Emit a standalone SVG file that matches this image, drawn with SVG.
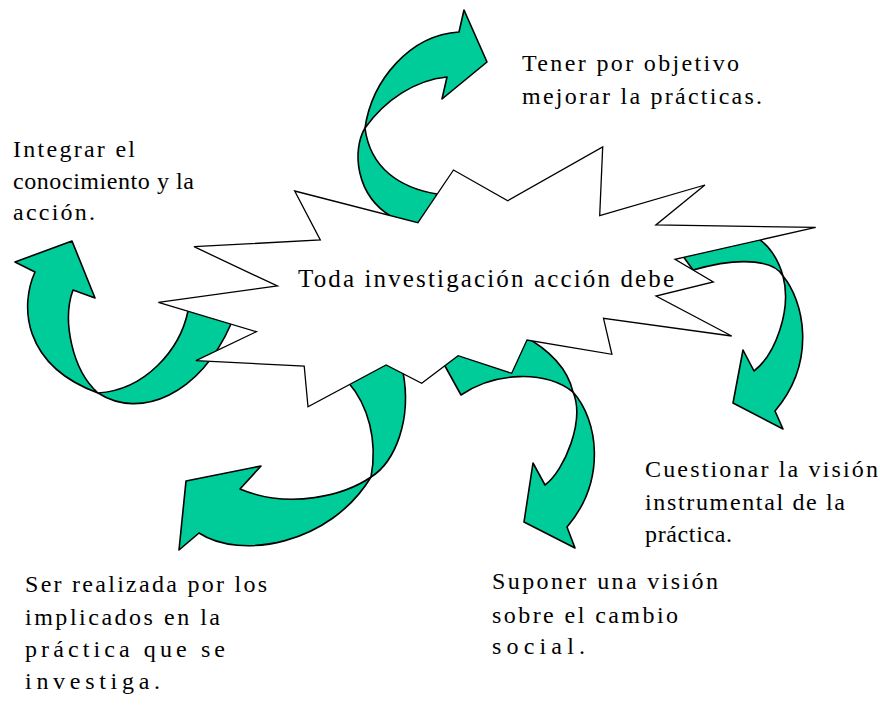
<svg xmlns="http://www.w3.org/2000/svg" width="880" height="707" viewBox="0 0 880 707">
<style>
.arr{fill:#00CC99;stroke:#000;stroke-width:1.6;stroke-linejoin:round}
.star{fill:#fff;stroke:#000;stroke-width:1.3;stroke-linejoin:miter}
text{font-family:"Liberation Serif","Times New Roman",serif;font-size:24px;fill:#000}
.main{font-size:25px}
</style>
<rect width="880" height="707" fill="#fff"/>
<g id="connectors">
<g id="arrow-top">
<path class="arr" d="M365,128 C352,150 355,195 392,217 L420,235 L437,194 C400,188 370,168 365,128 Z"/>
<path class="arr" d="M365,128 C372,80 410,35 459,32 L464,10 L487,62 L442,99 L447,77 C415,80 385,100 365,128 Z"/>
</g>
<g id="arrow-left">
<path class="arr" d="M98,393 C140,420 200,395 231,324 L220,310 L188,311 C180,350 145,390 98,393 Z"/>
<path class="arr" d="M98,393 C72,370 62,320 73,290 L95,298 L72,241 L15,262 L35,272 C20,305 22,365 98,393 Z"/>
</g>
<g id="arrow-bottom-left">
<path class="arr" d="M348,382 C368,405 378,440 371,477 C395,462 412,420 403,372 L390,362 L345,378 Z"/>
<path class="arr" d="M371,477 C345,495 290,510 240,489 L261,466 L186,481 L179,550 L199,533 C240,560 330,545 371,477 Z"/>
</g>
<g id="arrow-bottom-right">
<path class="arr" d="M573,392 C545,370 495,372 461,395 L445,366 L438,352 L520,330 L522,335 C550,350 568,370 573,392 Z"/>
<path class="arr" d="M573,392 C598,420 607,480 567,527 L575,548 L524,522 L533,463 L545,485 C565,470 585,420 573,392 Z"/>
</g>
<g id="arrow-right">
<path class="arr" d="M783,276 C775,262 745,255 693,270 L680,252 L740,235 L760,240 C768,245 778,258 783,276 Z"/>
<path class="arr" d="M783,276 C803,300 818,360 775,411 L783,429 L733,403 L743,350 L754,371 C775,355 792,310 783,276 Z"/>
</g>
</g>
<g id="center-node">
<polygon class="star" points="294.7,191 417.9,222.7 453.5,170 507.8,200.7 602.7,147 599.7,215.7 704.9,185 655.9,225 815.7,227.3 675,259.3 713.3,282 656,296 731.7,336 603.5,318.3 611.9,354.3 527,340 511.7,373.3 458.1,355.7 421.7,383.3 386.1,365 308,406.7 304.2,366 195.9,360.7 256.4,331.7 158.4,302.3 277.4,286 194,246.7 320.3,240"/>
<text class="main" x="298" y="287" textLength="376" lengthAdjust="spacing">Toda investigación acción debe</text>
</g>
<g id="label-top">
<text x="522" y="71" textLength="217" lengthAdjust="spacing">Tener por objetivo</text>
<text x="522" y="104" textLength="240" lengthAdjust="spacing">mejorar la prácticas.</text>
</g>
<g id="label-left">
<text x="13" y="157" textLength="122" lengthAdjust="spacing">Integrar el</text>
<text x="13" y="189" textLength="181" lengthAdjust="spacing">conocimiento y la</text>
<text x="13" y="220" textLength="82" lengthAdjust="spacing">acción.</text>
</g>
<g id="label-right">
<text x="645" y="477" textLength="233" lengthAdjust="spacing">Cuestionar la visión</text>
<text x="645" y="510" textLength="200" lengthAdjust="spacing">instrumental de la</text>
<text x="645" y="542" textLength="87" lengthAdjust="spacing">práctica.</text>
</g>
<g id="label-bottom-left">
<text x="25" y="592" textLength="242" lengthAdjust="spacing">Ser realizada por los</text>
<text x="25" y="625" textLength="195" lengthAdjust="spacing">implicados en la</text>
<text x="25" y="657" textLength="200" lengthAdjust="spacing">práctica que se</text>
<text x="25" y="689" textLength="135" lengthAdjust="spacing">investiga.</text>
</g>
<g id="label-bottom-right">
<text x="492" y="589" textLength="226" lengthAdjust="spacing">Suponer una visión</text>
<text x="492" y="623" textLength="186" lengthAdjust="spacing">sobre el cambio</text>
<text x="492" y="654" textLength="93" lengthAdjust="spacing">social.</text>
</g>
</svg>
